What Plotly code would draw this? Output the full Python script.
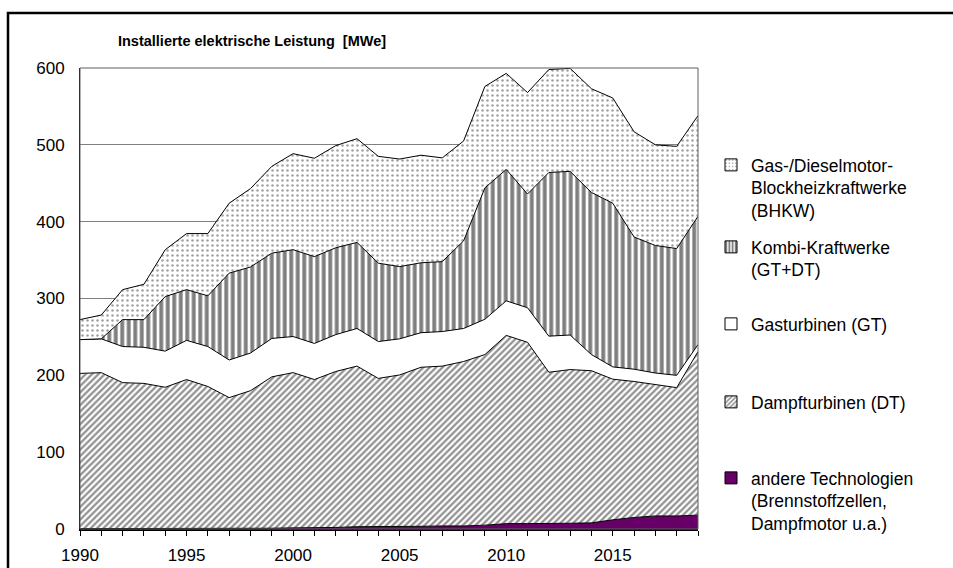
import plotly.graph_objects as go

years = list(range(1990, 2020))

andere = [0.5, 0.5, 0.5, 0.5, 0.5, 0.5, 0.5, 1, 1, 1, 1.5, 1.5, 2, 3, 3,
          3.5, 3.5, 4, 4, 5, 7, 7, 7, 7.5, 8, 12, 15, 17, 17, 18]
dampfturbinen = [202, 203, 190, 189, 184, 194, 185, 170, 179, 197, 202, 193, 203, 209, 193,
                 197, 207, 208, 214, 222, 245, 236, 197, 200, 198, 183, 177, 171, 167, 213]
gasturbinen = [44, 44, 47, 47, 47, 51, 52, 49, 49, 50, 47, 47, 48, 49, 48,
               47, 45, 45, 43, 46, 45, 45, 47, 45, 21, 16, 16, 15, 16, 9]
kombi = [0, 0, 35, 36, 71, 66, 66, 113, 112, 111, 113, 113, 113, 112, 102,
         94, 91, 91, 114, 171, 171, 148, 213, 213, 211, 213, 172, 166, 165, 167]
bhkw = [26, 31, 39, 46, 61, 73, 81, 91, 102, 113, 125, 128, 133, 135, 139,
        140, 140, 135, 130, 132, 125, 132, 134, 134, 135, 137, 137, 131, 133, 131]

names = [
    "andere Technologien<br>(Brennstoffzellen,<br>Dampfmotor u.a.)",
    "Dampfturbinen (DT)",
    "Gasturbinen (GT)",
    "Kombi-Kraftwerke<br>(GT+DT)",
    "Gas-/Dieselmotor-<br>Blockheizkraftwerke<br>(BHKW)",
]
series = [andere, dampfturbinen, gasturbinen, kombi, bhkw]

styles = [
    dict(fillcolor="#660066", pattern=None),
    dict(fillcolor="white", pattern=dict(shape="/", fgcolor="#222222", bgcolor="white", size=4.5, solidity=0.5)),
    dict(fillcolor="white", pattern=None),
    dict(fillcolor="white", pattern=dict(shape="|", fgcolor="black", bgcolor="white", size=6.5, solidity=0.6)),
    dict(fillcolor="white", pattern=dict(shape=".", fgcolor="#444444", bgcolor="white", size=5, solidity=0.2)),
]

FONT = "Liberation Sans, Arial, sans-serif"
fig = go.Figure()

for name, vals, st in zip(names, series, styles):
    kw = dict(x=years, y=vals, name=name, mode="lines", stackgroup="one",
              line=dict(color="black", width=1), fillcolor=st["fillcolor"],
              showlegend=False, hoverinfo="skip")
    if st["pattern"]:
        kw["fillpattern"] = st["pattern"]
    fig.add_trace(go.Scatter(**kw))

# legend proxies (one legend per entry so spacing matches)
legend_ids = ["legend5", "legend4", "legend3", "legend2", "legend"]
legend_top_px = [460, 384, 306, 229, 147]
for name, st, lid in zip(names, styles, legend_ids):
    marker = dict(color=st["fillcolor"], line=dict(color="black", width=1))
    if st["pattern"]:
        p = dict(st["pattern"])
        marker["pattern"] = dict(shape=p["shape"], fgcolor=p["fgcolor"], bgcolor=p["bgcolor"],
                                 size=4, solidity=p["solidity"])
    fig.add_trace(go.Bar(x=[None], y=[None], name=name, marker=marker,
                         legend=lid, showlegend=True, hoverinfo="skip"))

L, R, T, B = 80, 953 - 698, 68, 568 - 529
PW, PH = 953 - L - R, 568 - T - B

def px_x(p):
    return (p - L) / PW

def px_y(p):
    return (568 - B - p) / PH

layout_legends = {}
for lid, top in zip(legend_ids, legend_top_px):
    layout_legends[lid] = dict(
        x=px_x(711), y=px_y(top), xanchor="left", yanchor="top",
        font=dict(family=FONT, size=17.5, color="black"),
        bgcolor="rgba(0,0,0,0)", borderwidth=0, valign="top",
        itemwidth=30, itemclick=False, itemdoubleclick=False,
    )

fig.update_layout(
    width=953, height=568,
    margin=dict(l=L, r=R, t=T, b=B, autoexpand=False),
    paper_bgcolor="white", plot_bgcolor="white",
    font=dict(family=FONT, size=17, color="black"),
    title=dict(text="Installierte elektrische Leistung  [MWe]",
               font=dict(family=FONT, size=14.5, color="black", weight="bold"),
               x=px_x(252), xref="paper", xanchor="center",
               y=1 - 41 / 568, yref="container", yanchor="middle"),
    showlegend=True,
    **layout_legends,
)

fig.update_xaxes(
    range=[1990, 2019], tick0=1990, dtick=5, ticks="outside", ticklen=5,
    tickcolor="black", tickwidth=1, showgrid=False, zeroline=False,
    showline=True, linecolor="black", linewidth=2, automargin=False,
    tickfont=dict(family=FONT, size=17, color="black"),
    ticklabelstandoff=5,
    minor=dict(dtick=1, ticks="outside", ticklen=5, tickcolor="black", tickwidth=1, showgrid=False),
)
fig.update_yaxes(
    range=[0, 600], dtick=100, ticks="", showgrid=True, gridcolor="#808080",
    gridwidth=1, zeroline=False, showline=True, linecolor="black", linewidth=1,
    automargin=False,
    tickfont=dict(family=FONT, size=17, color="black"), ticklabelstandoff=11,
)

# plot-area border and outer chart frame
fig.add_shape(type="rect", xref="paper", yref="paper", x0=0, y0=0, x1=1, y1=1,
              line=dict(color="#606060", width=1), layer="above")
fig.add_shape(type="rect", xref="paper", yref="paper",
              x0=px_x(8), y0=px_y(600), x1=px_x(1000), y1=px_y(13),
              line=dict(color="black", width=2.5), layer="above")

fig.write_html("out.html", config={"displayModeBar": False},
               post_script="document.body.style.margin='0';document.body.style.overflow='hidden';")
